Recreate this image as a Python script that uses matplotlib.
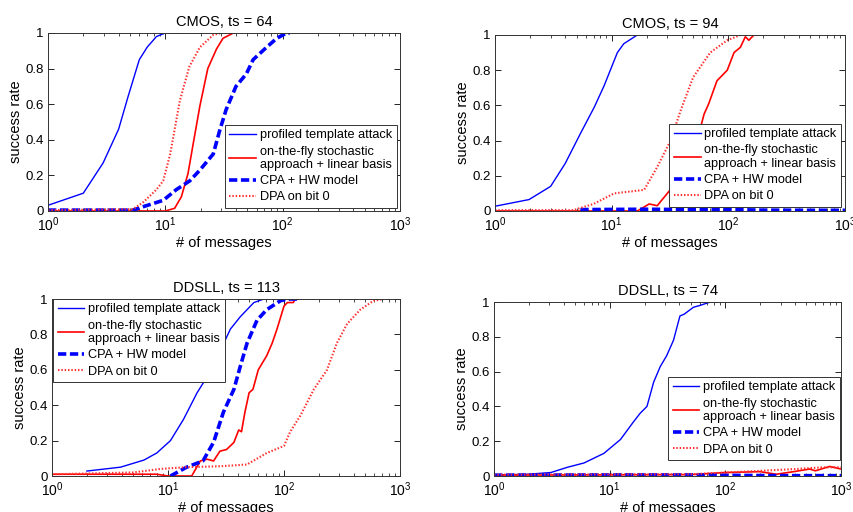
import matplotlib
matplotlib.use("Agg")
import matplotlib.pyplot as plt
from matplotlib.ticker import FixedLocator, FuncFormatter, LogLocator

plt.rcParams['font.family'] = ['Liberation Sans', 'DejaVu Sans']

labels = ['profiled template attack',
          'on-the-fly stochastic\napproach + linear basis',
          'CPA + HW model',
          'DPA on bit 0']
titles = ['CMOS, ts = 64', 'CMOS, ts = 94', 'DDSLL, ts = 113', 'DDSLL, ts = 74']

# CMOS, ts = 64
tl_tmpl_x = [1, 2, 2.95, 4, 4.8, 6, 7, 8.4, 10, 13]
tl_tmpl_y = [0.032, 0.1, 0.27, 0.46, 0.64, 0.85, 0.92, 0.98, 1.0, 1.0]
tl_stoch_x = [1, 5, 10, 12, 13.7, 15.6, 17.3, 19.7, 23, 27.3, 31, 38, 40]
tl_stoch_y = [0.0, 0.0, 0.0, 0.015, 0.08, 0.21, 0.38, 0.59, 0.8, 0.91, 0.97, 1.0, 1.0]
tl_cpa_x = [1, 5.3, 6.9, 9.6, 12.4, 16.2, 19.7, 25.6, 29, 33, 40, 49, 56, 73, 89, 108, 115]
tl_cpa_y = [0.005, 0.005, 0.03, 0.06, 0.12, 0.17, 0.23, 0.32, 0.45, 0.57, 0.7, 0.77, 0.85, 0.92, 0.97, 1.0, 1.0]
tl_dpa_x = [1, 5.3, 6.5, 8.4, 9.6, 11, 13.3, 16, 19.7, 25.7, 30, 40]
tl_dpa_y = [0.005, 0.01, 0.05, 0.12, 0.17, 0.32, 0.62, 0.81, 0.92, 0.99, 1.0, 1.0]

# CMOS, ts = 94
tr_tmpl_x = [1, 1.96, 3, 4, 5.4, 7.1, 8.6, 11.2, 12.7, 16.6, 23]
tr_tmpl_y = [0.027, 0.065, 0.14, 0.27, 0.44, 0.59, 0.71, 0.9, 0.95, 1.0, 1.0]
tr_stoch_x = [1, 16.6, 21, 24.6, 30, 36.6, 44, 54, 62, 68, 80, 98, 112, 127, 140, 150, 166, 180]
tr_stoch_y = [0, 0, 0.04, 0.03, 0.1, 0.17, 0.29, 0.4, 0.55, 0.61, 0.74, 0.8, 0.9, 0.93, 0.99, 0.97, 1.0, 1.0]
tr_cpa_x = [5.4, 20, 50, 100, 200, 500, 1000]
tr_cpa_y = [0.008, 0.01, 0.008, 0.008, 0.005, 0.004, 0.004]
tr_dpa_x = [1, 4.7, 7, 10.5, 19, 24.6, 32, 39, 50, 70, 98, 127, 230]
tr_dpa_y = [0.005, 0.005, 0.04, 0.1, 0.12, 0.25, 0.4, 0.57, 0.76, 0.9, 0.97, 1.0, 1.0]

# DDSLL, ts = 113
bl_tmpl_x = [2, 3.9, 6.2, 8, 10.5, 13.6, 17.8, 21.7, 28.3, 34.5, 42, 55, 67, 140]
bl_tmpl_y = [0.028, 0.05, 0.09, 0.13, 0.2, 0.32, 0.47, 0.56, 0.71, 0.83, 0.9, 0.98, 1.0, 1.0]
bl_stoch_x = [1, 8, 10, 16, 19, 21.7, 24.7, 28, 32, 37, 40.7, 43, 46, 50, 54, 60, 71, 79, 87, 100, 107, 120, 125, 130]
bl_stoch_y = [0.01, 0.01, 0, 0, 0.085, 0.095, 0.085, 0.14, 0.15, 0.19, 0.26, 0.25, 0.36, 0.47, 0.49, 0.6, 0.68, 0.75, 0.83, 0.96, 0.98, 0.98, 1.0, 1.0]
bl_cpa_x = [10.5, 14.5, 20, 24.7, 30, 37, 42, 48, 58.5, 71, 93, 107, 130]
bl_cpa_y = [0, 0.05, 0.085, 0.19, 0.36, 0.49, 0.62, 0.75, 0.88, 0.94, 0.99, 1.0, 1.0]
bl_dpa_x = [1, 5, 8.6, 14.5, 28, 48, 71, 100, 113, 138, 181, 235, 285, 350, 455, 590, 720]
bl_dpa_y = [0.01, 0.02, 0.04, 0.05, 0.055, 0.065, 0.13, 0.17, 0.25, 0.34, 0.49, 0.6, 0.75, 0.86, 0.94, 0.99, 1.0]

# DDSLL, ts = 74
br_tmpl_x = [1, 1.94, 3.1, 4.3, 6, 8.9, 12.4, 16, 18.3, 21, 24, 27.4, 31, 35.6, 40.5, 44, 53, 60, 74, 84]
br_tmpl_y = [0.005, 0.01, 0.02, 0.05, 0.075, 0.13, 0.21, 0.31, 0.36, 0.4, 0.54, 0.63, 0.69, 0.78, 0.92, 0.93, 0.97, 0.98, 1.0, 1.0]
br_stoch_x = [1, 50, 100, 200, 275, 390, 535, 600, 800, 1000]
br_stoch_y = [0.005, 0.008, 0.02, 0.025, 0.01, 0.025, 0.04, 0.03, 0.055, 0.04]
br_cpa_x = [1, 10, 50, 100, 300, 1000]
br_cpa_y = [0.005, 0.006, 0.006, 0.004, 0.002, 0.002]
br_dpa_x = [1, 50, 100, 200, 400, 700, 1000]
br_dpa_y = [0.008, 0.01, 0.02, 0.03, 0.04, 0.05, 0.05]

panels = [
    (tl_tmpl_x, tl_tmpl_y, tl_stoch_x, tl_stoch_y, tl_cpa_x, tl_cpa_y, tl_dpa_x, tl_dpa_y),
    (tr_tmpl_x, tr_tmpl_y, tr_stoch_x, tr_stoch_y, tr_cpa_x, tr_cpa_y, tr_dpa_x, tr_dpa_y),
    (bl_tmpl_x, bl_tmpl_y, bl_stoch_x, bl_stoch_y, bl_cpa_x, bl_cpa_y, bl_dpa_x, bl_dpa_y),
    (br_tmpl_x, br_tmpl_y, br_stoch_x, br_stoch_y, br_cpa_x, br_cpa_y, br_dpa_x, br_dpa_y),
]

# axes rectangles (left, bottom, width, height) and legend placement
rects = [(0.0562, 0.5879, 0.4122, 0.3477),
         (0.5796, 0.5879, 0.4098, 0.3438),
         (0.0609, 0.0703, 0.4075, 0.3457),
         (0.5785, 0.0703, 0.4063, 0.3398)]
leg_pos = [('lower right', (0.991, 0.017)),
           ('lower right', (0.989, 0.023)),
           ('upper left', (0.003, 1.0)),
           ('lower right', (0.997, 0.092))]

fig = plt.figure(figsize=(8.54, 5.12), dpi=100)

for i, d in enumerate(panels):
    ax = fig.add_axes(rects[i])
    ax.plot(d[0], d[1], color='#0000ff', lw=1.0, label=labels[0])
    ax.plot(d[2], d[3], color='#ff0000', lw=1.2, label=labels[1])
    ax.plot(d[4], d[5], color='#0000ff', lw=2.6, dashes=(2.3, 1.0), label=labels[2])
    ax.plot(d[6], d[7], color='#ff3030', lw=1.5, dashes=(0.7, 0.9), label=labels[3])
    ax.set_xscale('log')
    ax.set_xlim(1, 1000)
    ax.set_ylim(0, 1)
    ax.yaxis.set_major_locator(FixedLocator([0, 0.2, 0.4, 0.6, 0.8, 1.0]))
    ax.yaxis.set_major_formatter(FuncFormatter(lambda v, p: '%g' % v))
    ax.xaxis.set_minor_locator(LogLocator(base=10, subs=range(2, 10)))
    ax.xaxis.set_minor_formatter(FuncFormatter(lambda v, p: ''))
    ax.tick_params(which='both', direction='in', top=True, right=True)
    ax.tick_params(axis='x', labelsize=10)
    ax.tick_params(axis='y', labelsize=9.5, pad=3)
    ax.tick_params(which='major', length=4, width=0.6)
    ax.tick_params(which='minor', length=2, width=0.5)
    for s in ax.spines.values():
        s.set_linewidth(0.7)
        s.set_color('#333333')
    ax.set_title(titles[i], fontsize=10.5, pad=5)
    ax.set_xlabel('# of messages', fontsize=10.5, labelpad=1)
    ax.set_ylabel('success rate', fontsize=10.5, labelpad=2)
    loc, anchor = leg_pos[i]
    leg = ax.legend(loc=loc, bbox_to_anchor=anchor, fontsize=9.2, fancybox=False,
                    framealpha=1, edgecolor='#333333', handlelength=2.1,
                    handletextpad=0.3, labelspacing=0.32, borderpad=0.35,
                    borderaxespad=0)
    leg.get_frame().set_linewidth(0.7)

fig.savefig('out.png', dpi=100)
